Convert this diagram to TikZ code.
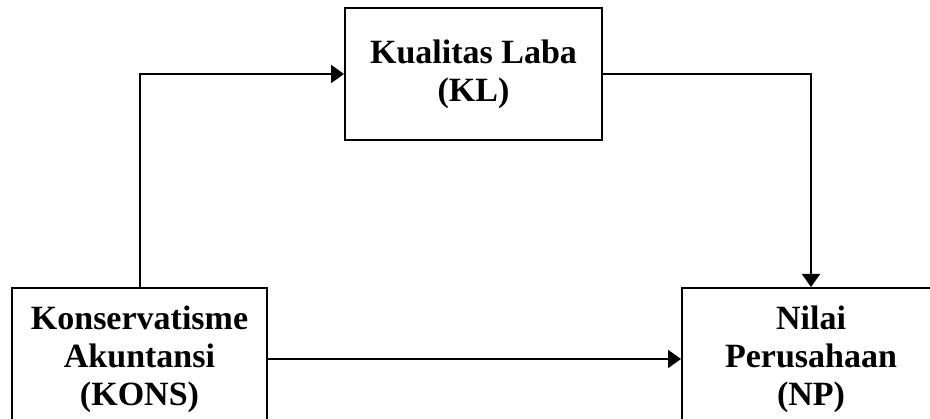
\documentclass[tikz,border=0pt]{standalone}
\usepackage{fontspec}
\setmainfont{Liberation Serif}
\usetikzlibrary{arrows.meta}
\tikzset{
  box/.style={draw=black, line width=2pt, rectangle, align=center, inner sep=0pt,
    font=\fontsize{34}{38}\selectfont\bfseries},
  link/.style={draw=black, line width=2pt, -{Triangle[length=13pt,width=18pt]}}
}
\begin{document}
\begin{tikzpicture}[x=1pt,y=-1pt]
\useasboundingbox (0,0) rectangle (930,419);
\clip (0,0) rectangle (930,419);
\node[box, minimum width=257pt, minimum height=132pt] (KL) at (473.5,74) {Kualitas Laba\\(KL)};
\node[box, minimum width=255pt, minimum height=142pt] (KONS) at (139.5,359) {Konservatisme\\Akuntansi\\(KONS)};
\node[box, minimum width=258pt, minimum height=142pt] (NP) at (811,359) {Nilai\\Perusahaan\\(NP)};
\draw[link] (KONS.north) |- (KL.west);
\draw[link] (KL.east) -| (NP.north);
\draw[link] (KONS.east) -- (NP.west);
\end{tikzpicture}
\end{document}
